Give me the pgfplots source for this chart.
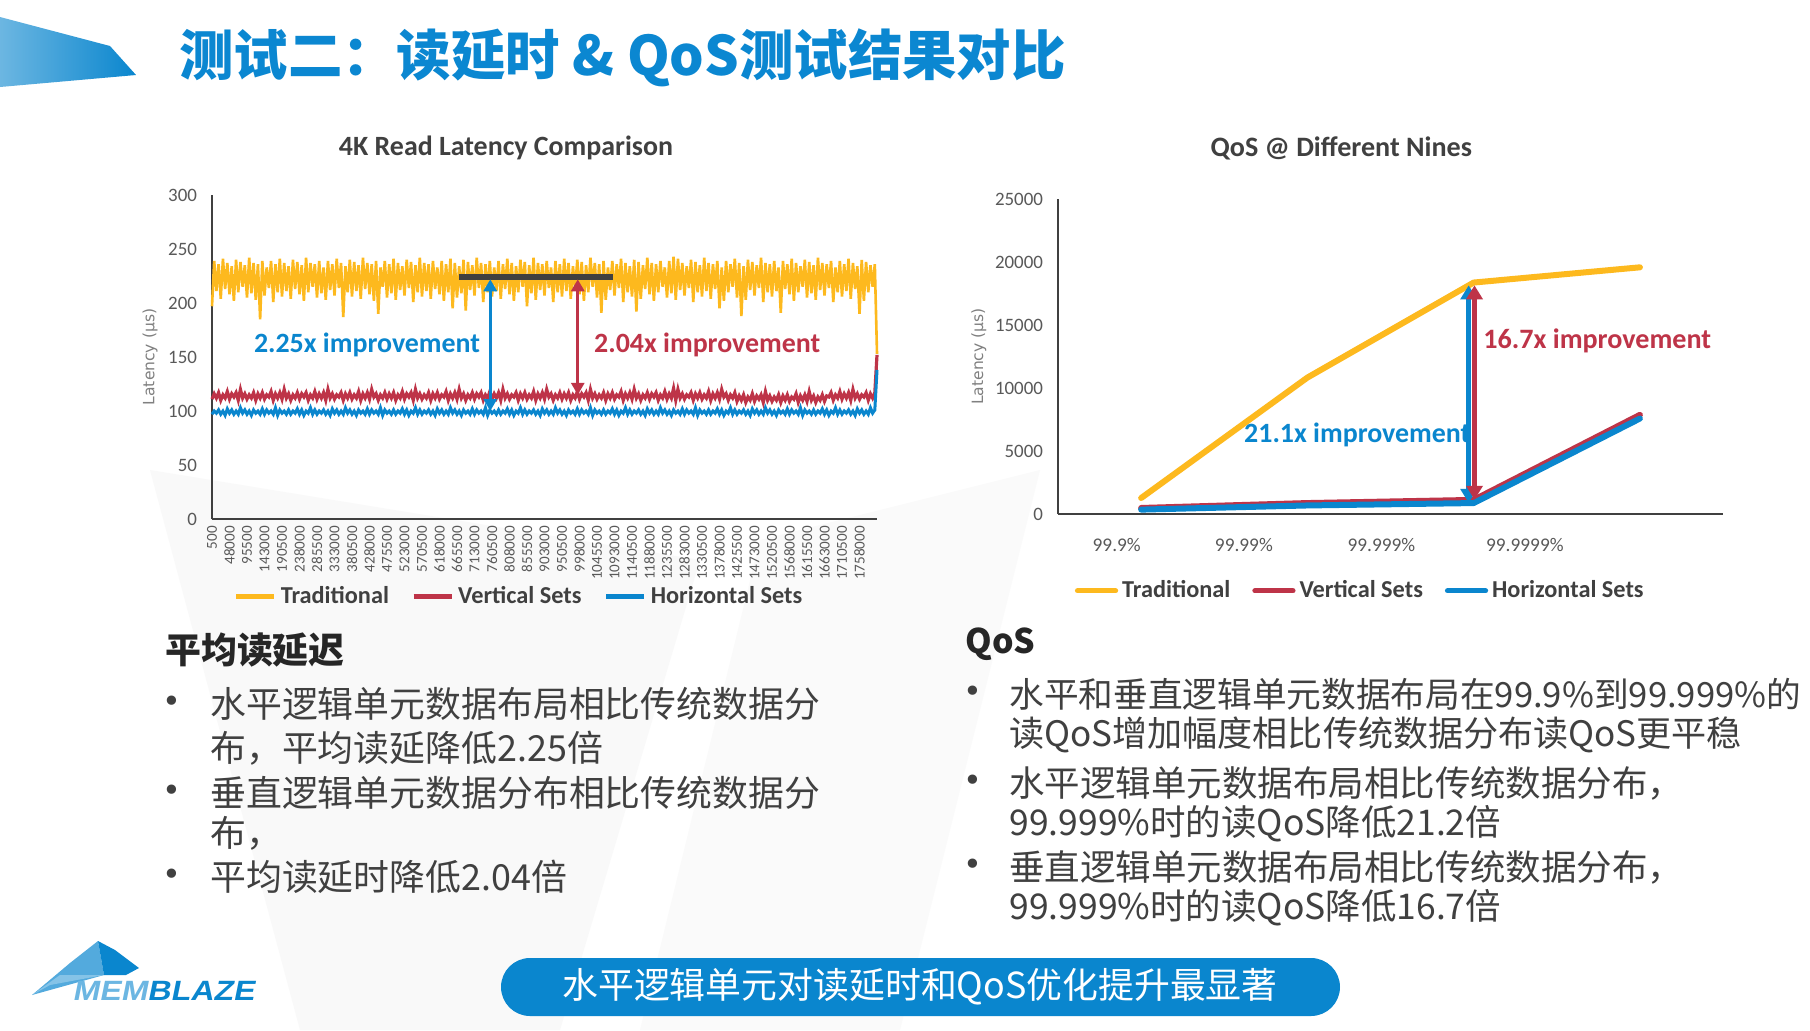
\documentclass[border=0pt]{standalone}
\usepackage{fontspec}
\setmainfont{Carlito}
\newfontfamily\cjk{Noto Sans CJK SC}
\newfontfamily\labfont{DejaVu Sans}
\newfontfamily\logofont[FakeSlant=0.2,FakeStretch=1.15]{Liberation Sans}
\usepackage{pgfplots}
\usepackage{pgfplotstable}
\pgfplotsset{compat=1.18}
\usetikzlibrary{arrows.meta}

\definecolor{trad}{RGB}{253,185,30}
\definecolor{vert}{RGB}{190,52,72}
\definecolor{horiz}{RGB}{10,134,206}
\definecolor{titleblue}{RGB}{11,135,209}
\definecolor{darktext}{RGB}{64,64,64}
\definecolor{axisgray}{RGB}{64,64,64}
\definecolor{tickgray}{RGB}{89,89,89}
\definecolor{bargray}{RGB}{64,64,64}

% 4K read latency, one row every 1/8 tick (t = traditional, v = vertical, h = horizontal)
\pgfplotstableread{
t v h
197 111 97
239 116 100
211 112 98
236 117 101
204 110 97
241 115 100
213 112 96
237 118 102
208 111 98
234 116 101
202 113 97
240 117 100
210 110 97
238 120 103
215 112 98
235 116 101
205 111 97
242 115 100
209 112 96
237 117 101
203 110 98
236 116 100
185 112 97
239 117 102
207 111 97
233 115 101
214 113 98
239 118 100
201 110 97
236 116 103
210 112 96
241 117 101
206 111 98
237 120 100
211 112 97
234 116 101
204 110 97
240 115 100
213 112 98
238 117 102
208 111 97
235 116 101
202 113 96
242 117 100
210 110 98
237 115 103
215 112 97
236 118 101
205 111 97
239 116 100
209 112 98
233 117 101
203 110 97
239 120 100
212 112 96
236 116 102
207 111 98
241 115 101
214 113 97
237 117 100
187 110 97
234 116 103
210 112 98
240 117 101
206 111 97
238 115 100
211 112 96
235 118 101
204 110 98
242 116 100
213 112 97
237 117 102
208 111 97
236 120 101
202 113 98
239 116 100
190 110 97
233 115 103
215 112 96
239 117 101
205 111 98
236 116 100
209 112 97
241 117 101
203 110 97
237 115 100
212 112 98
234 118 102
207 111 97
240 116 101
214 113 96
238 117 100
201 110 98
235 120 103
210 112 97
242 116 101
206 111 97
237 115 100
211 112 98
236 117 101
204 110 97
239 116 100
213 112 96
233 117 102
208 111 98
239 115 101
202 113 97
236 118 100
210 110 97
241 116 103
195 112 98
237 117 101
205 111 97
234 120 100
209 112 96
240 116 101
193 110 98
238 115 100
212 112 97
235 117 102
207 111 97
242 116 101
214 113 98
237 117 100
201 110 97
236 115 103
210 112 96
239 118 101
206 111 98
233 116 100
211 112 97
239 117 101
204 110 97
236 120 100
213 112 98
241 116 102
208 111 97
237 115 101
202 113 96
234 117 100
210 110 98
240 116 103
215 112 97
238 117 101
197 111 97
235 115 100
209 112 98
242 118 101
203 110 97
237 116 100
212 112 96
236 117 102
207 111 98
239 120 101
214 113 97
233 116 100
201 110 97
239 115 103
210 112 98
236 117 101
206 111 97
241 116 100
211 112 96
237 117 101
204 110 98
234 115 100
213 112 97
240 118 102
208 111 97
238 116 101
202 113 98
235 117 100
210 110 97
242 120 103
215 112 96
237 116 101
205 111 98
236 115 100
191 112 97
239 117 101
203 110 97
233 116 100
212 112 98
239 117 102
207 111 97
236 115 101
214 113 96
241 118 100
201 110 98
237 116 103
210 112 97
234 117 101
206 111 97
240 120 100
192 112 98
238 116 101
204 110 97
235 115 100
213 112 96
242 117 102
208 111 98
237 116 101
202 113 97
236 117 100
210 110 97
239 115 103
215 112 98
233 118 101
205 111 97
239 116 100
209 112 96
243 121 101
203 110 98
241 120 100
212 112 97
237 116 102
207 111 97
234 115 101
214 113 98
240 117 100
201 110 97
238 116 103
210 112 96
235 117 101
206 111 98
242 115 100
211 112 97
237 118 101
204 110 97
236 116 100
213 112 98
239 117 102
195 111 97
233 120 101
202 113 96
239 116 100
210 110 98
236 115 103
215 112 97
241 117 101
205 109 97
237 114 100
188 110 98
234 115 101
203 108 97
240 113 100
212 110 96
238 116 102
207 109 98
235 114 101
214 111 97
242 115 100
201 108 97
237 118 103
210 110 98
236 114 101
206 109 97
239 113 100
211 110 96
233 115 101
191 108 98
239 114 100
213 110 97
236 115 102
208 109 97
241 113 101
202 111 98
237 116 100
210 108 97
234 114 103
215 110 96
240 115 101
205 109 98
238 118 100
209 110 97
235 114 101
203 108 97
242 113 100
212 110 98
237 115 102
207 109 97
236 114 101
214 113 96
239 117 100
201 110 98
233 115 103
210 112 97
239 118 101
206 111 97
236 116 100
211 112 98
241 117 101
204 110 97
237 120 100
213 112 96
234 116 102
190 111 98
240 115 101
202 113 97
238 117 100
210 110 97
235 116 103
215 112 98
236 117 101
153 152 138
}\latencytab

\begin{document}
\begin{tikzpicture}[x=0.5bp,y=0.5bp]
\path[use as bounding box, fill=white] (0,0) rectangle (1810,-1030);

% faint background shapes
\fill[black!2.5] (150,-470) -- (700,-560) -- (560,-1030) -- (300,-1030) -- cycle;
\fill[black!2] (760,-540) -- (1040,-470) -- (900,-1030) -- (640,-1030) -- cycle;

% title band
\shade[left color=horiz!60, right color=horiz] (0,-17) -- (110,-46) -- (136,-75) -- (0,-87) -- cycle;
\node[anchor=west, inner sep=0, text=titleblue, font=\cjk\bfseries\fontsize{27.3}{31}\selectfont]
  at (179,-58) {测试二：读延时 \& QoS测试结果对比};

% ---------- left chart ----------
\begin{axis}[
  at={(106bp,-259.5bp)}, anchor=south west,
  scale only axis, width=332.5bp, height=162bp,
  xmin=0, xmax=38, ymin=0, ymax=300,
  axis x line*=bottom, axis y line*=left,
  axis line style={-, color=axisgray, line width=1.2bp},
  major tick length=0,
  ytick={0,50,...,300},
  xtick={0,...,37},
  xticklabels={500,48000,95500,143000,190500,238000,285500,333000,380500,428000,475500,523000,570500,618000,665500,713000,760500,808000,855500,903000,950500,998000,1045500,1093000,1140500,1188000,1235500,1283000,1330500,1378000,1425500,1473000,1520500,1568000,1615500,1663000,1710500,1758000},
  /pgf/number format/assume math mode=true,
  yticklabel style={font=\fontsize{9.5}{10}\selectfont, text=tickgray, xshift=-4bp},
  xticklabel style={rotate=90, anchor=east, font=\fontsize{7.6}{8}\selectfont, text=tickgray},
  ylabel={Latency (µs)},
  ylabel style={at={(axis description cs:-0.093,0.5)}, anchor=center, font=\labfont\fontsize{7.8}{9}\selectfont, text=black!50},
  title={4K Read Latency Comparison},
  title style={at={(axis description cs:0.442,1.108)}, anchor=center, font=\bfseries\fontsize{14}{16}\selectfont, text=darktext},
  legend style={at={(0.463,-0.24)}, anchor=center, draw=none, fill=none,
    legend columns=3, font=\bfseries\fontsize{12.2}{14}\selectfont, text=darktext,
    /tikz/every even column/.append style={column sep=9bp}},
  legend image code/.code={\draw[#1, line width=2.6bp] (0bp,0bp) -- (19bp,0bp);},
  clip=false,
]
\addplot[trad, line width=1.3bp] table[x expr=\coordindex/8, y=t] {\latencytab};
\addplot[vert, line width=1.6bp] table[x expr=\coordindex/8, y=v] {\latencytab};
\addplot[horiz, line width=1.5bp] table[x expr=\coordindex/8, y=h] {\latencytab};
\legend{Traditional,Vertical Sets,Horizontal Sets}

\draw[bargray, line width=3bp] (axis cs:14.1,224) -- (axis cs:22.9,224);
\draw[horiz, line width=1.7bp, {Triangle[width=6.5bp,length=6bp]}-{Triangle[width=6.5bp,length=6bp]}]
  (axis cs:15.9,222) -- (axis cs:15.9,100);
\draw[vert, line width=1.7bp, {Triangle[width=6.5bp,length=6bp]}-{Triangle[width=6.5bp,length=6bp]}]
  (axis cs:20.9,222) -- (axis cs:20.9,115);
\node[text=horiz, font=\bfseries\fontsize{14}{16}\selectfont] at (axis cs:8.86,161) {2.25x improvement};
\node[text=vert, font=\bfseries\fontsize{14}{16}\selectfont] at (axis cs:28.3,161) {2.04x improvement};
\end{axis}

% ---------- right chart ----------
\begin{axis}[
  at={(529bp,-257bp)}, anchor=south west,
  scale only axis, width=332.5bp, height=157.5bp,
  xmin=0, xmax=4, ymin=0, ymax=25000,
  axis x line*=bottom, axis y line*=left,
  axis line style={-, color=axisgray, line width=1.2bp},
  major tick length=0,
  ytick={0,5000,...,25000},
  scaled y ticks=false,
  yticklabel style={/pgf/number format/fixed, /pgf/number format/1000 sep={},
    font=\fontsize{9.5}{10}\selectfont, text=tickgray, xshift=-4bp},
  xtick={0.353,1.118,1.945,2.808},
  xticklabels={99.9\%,99.99\%,99.999\%,99.9999\%},
  xticklabel style={font=\fontsize{9.7}{10}\selectfont, text=tickgray, yshift=-8.5bp},
  /pgf/number format/assume math mode=true,
  ylabel={Latency (µs)},
  ylabel style={at={(axis description cs:-0.119,0.5)}, anchor=center, font=\labfont\fontsize{7.8}{9}\selectfont, text=black!50},
  title={QoS @ Different Nines},
  title style={at={(axis description cs:0.426,1.124)}, anchor=center, font=\bfseries\fontsize{14.1}{16}\selectfont, text=darktext},
  legend style={at={(0.456,-0.244)}, anchor=center, draw=none, fill=none,
    legend columns=3, font=\bfseries\fontsize{12.2}{14}\selectfont, text=darktext,
    /tikz/every even column/.append style={column sep=9bp}},
  legend image code/.code={\draw[#1, line width=2.6bp] (0bp,0bp) -- (19bp,0bp);},
  clip=false,
]
\addplot[trad, line width=3bp, line cap=round, line join=round] coordinates {(0.5,1270) (1.5,10830) (2.5,18370) (3.5,19580)};
\addplot[vert, line width=3bp, line cap=round, line join=round] coordinates {(0.5,480) (1.5,870) (2.5,1120) (3.5,7870)};
\addplot[horiz, line width=3bp, line cap=round, line join=round] coordinates {(0.5,350) (1.5,680) (2.5,870) (3.5,7580)};
\legend{Traditional,Vertical Sets,Horizontal Sets}

\node[text=horiz, font=\bfseries\fontsize{14}{16}\selectfont] at (axis cs:1.80,6300) {21.1x improvement};
\node[text=vert, font=\bfseries\fontsize{14.1}{16}\selectfont, anchor=west, inner sep=0] at (axis cs:2.556,13740) {16.7x improvement};
\draw[horiz, line width=2.2bp, {Triangle[width=8bp,length=7bp]}-{Triangle[width=8bp,length=7bp]}]
  (axis cs:2.47,18150) -- (axis cs:2.47,880);
\draw[vert, line width=2.2bp, {Triangle[width=8bp,length=7bp]}-{Triangle[width=8bp,length=7bp]}]
  (axis cs:2.505,18150) -- (axis cs:2.505,1130);
\end{axis}

% ---------- text blocks ----------
\begin{scope}[every node/.style={anchor=west, inner sep=0}]
\node[font=\cjk\bfseries\fontsize{18}{22}\selectfont, text=black!85] at (165,-650) {平均读延迟};
\node[font=\labfont\fontsize{16}{20}\selectfont, text=darktext] at (162,-704) {•};
\node[font=\labfont\fontsize{16}{20}\selectfont, text=darktext] at (162,-793) {•};
\node[font=\labfont\fontsize{16}{20}\selectfont, text=darktext] at (162,-877) {•};
\node[font=\cjk\fontsize{18}{22}\selectfont, text=darktext] at (210,-704) {水平逻辑单元数据布局相比传统数据分};
\node[font=\cjk\fontsize{18}{22}\selectfont, text=darktext] at (210,-748) {布，平均读延降低2.25倍};
\node[font=\cjk\fontsize{18}{22}\selectfont, text=darktext] at (210,-793) {垂直逻辑单元数据分布相比传统数据分};
\node[font=\cjk\fontsize{18}{22}\selectfont, text=darktext] at (210,-833) {布，};
\node[font=\cjk\fontsize{18}{22}\selectfont, text=darktext] at (210,-877) {平均读延时降低2.04倍};

\node[font=\cjk\bfseries\fontsize{17}{21}\selectfont, text=black!85] at (965,-644) {QoS};
\node[font=\labfont\fontsize{16}{20}\selectfont, text=darktext] at (963,-694) {•};
\node[font=\labfont\fontsize{16}{20}\selectfont, text=darktext] at (963,-783) {•};
\node[font=\labfont\fontsize{16}{20}\selectfont, text=darktext] at (963,-867) {•};
\node[font=\cjk\fontsize{17.4}{21}\selectfont, text=darktext] at (1009,-694) {水平和垂直逻辑单元数据布局在99.9\%到99.999\%的};
\node[font=\cjk\fontsize{17.6}{21}\selectfont, text=darktext] at (1009,-735) {读QoS增加幅度相比传统数据分布读QoS更平稳};
\node[font=\cjk\fontsize{17.8}{21}\selectfont, text=darktext] at (1009,-783) {水平逻辑单元数据布局相比传统数据分布，};
\node[font=\cjk\fontsize{17.8}{21}\selectfont, text=darktext] at (1009,-824) {99.999\%时的读QoS降低21.2倍};
\node[font=\cjk\fontsize{17.8}{21}\selectfont, text=darktext] at (1009,-867) {垂直逻辑单元数据布局相比传统数据分布，};
\node[font=\cjk\fontsize{17.8}{21}\selectfont, text=darktext] at (1009,-908) {99.999\%时的读QoS降低16.7倍};
\end{scope}

% bottom banner
\fill[horiz, rounded corners=14.5bp] (501,-958) rectangle (1340,-1016);
\node[text=white, font=\cjk\fontsize{18}{22}\selectfont] at (920,-987) {水平逻辑单元对读延时和QoS优化提升最显著};

% logo
\fill[horiz!70] (32,-995) -- (70,-963) -- (98,-941) -- (104,-975) -- cycle;
\fill[horiz] (98,-941) -- (115,-950) -- (139,-968) -- (126,-975) -- (104,-975) -- cycle;
\fill[horiz!50] (32,-995) -- (60,-975) -- (104,-975) -- (50,-985) -- cycle;
\node[anchor=west, inner sep=0, font=\logofont\bfseries\fontsize{14}{16}\selectfont] at (72,-991)
  {\textcolor{horiz!60}{MEM}\textcolor{horiz}{BLAZE}};
\end{tikzpicture}
\end{document}
